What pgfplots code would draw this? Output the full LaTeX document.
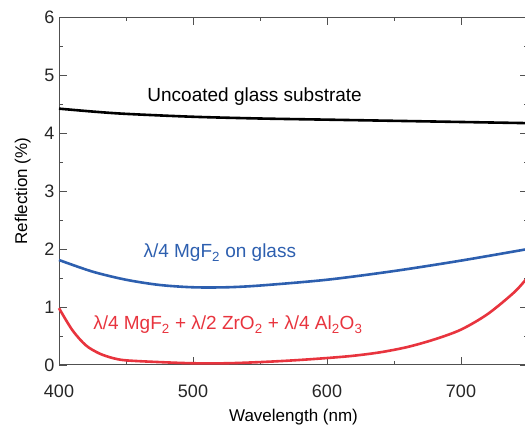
\documentclass[border=0pt]{standalone}
\usepackage{pgfplots}
\pgfplotsset{compat=1.18}
\usepackage{fontspec}
\setmainfont{Liberation Sans}
\definecolor{axgray}{RGB}{80,80,80}
\definecolor{cblue}{RGB}{45,95,175}
\definecolor{cred}{RGB}{232,52,62}
\begin{document}
\begin{tikzpicture}[x=1pt,y=1pt]
\begin{axis}[
  at={(59pt,63pt)}, anchor=south west,
  scale only axis, width=469pt, height=348pt,
  xmin=400, xmax=750, ymin=0, ymax=6,
  xtick={400,500,600,700}, ytick={0,1,2,3,4,5,6},
  minor x tick num=1, minor y tick num=1,
  tick align=inside,
  major tick length=8pt, minor tick length=4pt,
  axis line style={axgray, line width=1pt},
  every tick/.style={axgray, line width=0.9pt},
  /pgf/number format/assume math mode=true,
  ticklabel style={font=\fontsize{18}{20}\selectfont, text=black!85},
  xticklabel style={yshift=-16pt},
  yticklabel style={xshift=-1pt},
  xlabel={Wavelength (nm)}, ylabel={Reflection (\%)},
  label style={font=\fontsize{17}{19}\selectfont},
  xlabel style={yshift=-5pt},
  ylabel style={yshift=7pt},
  clip=false,
]
\addplot[black, line width=2.6pt, smooth] coordinates {
 (400,4.42) (425,4.37) (450,4.33) (500,4.28) (550,4.25) (600,4.23) (650,4.21) (700,4.19) (750,4.17)};
\addplot[cblue, line width=2.6pt, smooth] coordinates {
 (400,1.81) (425,1.61) (450,1.47) (475,1.38) (500,1.34) (525,1.34) (550,1.37) (600,1.47) (650,1.62) (700,1.80) (750,2.00)};
\addplot[cred, line width=2.6pt, smooth] coordinates {
 (400,0.98) (410,0.6) (420,0.34) (430,0.2) (440,0.12) (450,0.08) (475,0.05) (500,0.03) (525,0.03) (550,0.05) (575,0.08) (600,0.12) (620,0.16) (640,0.22) (660,0.31) (680,0.44) (700,0.61) (720,0.88) (740,1.26) (750,1.52)};
\node[font=\fontsize{19}{22}\selectfont] at (axis cs:546,4.62) {Uncoated glass substrate};
\node[font=\fontsize{19}{22}\selectfont, text=cblue] at (axis cs:520,1.93) {λ/4 MgF\textsubscript{2} on glass};
\node[font=\fontsize{19}{22}\selectfont, text=cred] at (axis cs:526,0.69) {λ/4 MgF\textsubscript{2} + λ/2 ZrO\textsubscript{2} + λ/4 Al\textsubscript{2}O\textsubscript{3}};
\end{axis}
\pgfresetboundingbox
\path[use as bounding box] (0,0) rectangle (525,428);
\end{tikzpicture}
\end{document}
